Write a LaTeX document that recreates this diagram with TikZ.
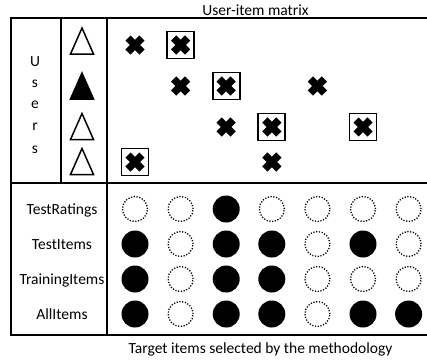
\documentclass[tikz,border=0pt]{standalone}
\usepackage{fontspec}
\setmainfont{Carlito}
\begin{document}
\begin{tikzpicture}[x=1pt,y=-1pt,
  frame/.style={line width=1.6pt},
  lbl/.style={font=\fontsize{15.5}{18}\selectfont, inner sep=0pt},
  filled/.style={circle, fill=black, minimum size=27pt, inner sep=0pt},
  open/.style={circle, draw, dash pattern=on 1.2pt off 1.6pt, line width=1.3pt, minimum size=25pt, inner sep=0pt},
  plainx/.style={minimum size=27pt, inner sep=0pt},
  boxx/.style={minimum size=27pt, inner sep=0pt, draw, line width=1.7pt},
  xline/.style={line width=7.4pt},
  tri/.style={line width=1.5pt},
]
\useasboundingbox (0,0) rectangle (427,360);
% frame
\coordinate (tr) at (427,18);
\coordinate (tl) at (11,18);
\coordinate (bl) at (11,335);
\coordinate (br) at (427,335);
\coordinate (ml) at (11,183);
\coordinate (mr) at (427,183);
\coordinate (ua) at (61,18);
\coordinate (ub) at (61,183);
\coordinate (ta) at (107,18);
\coordinate (tb) at (107,335);
\draw[frame] (tr) -- (tl) -- (bl) -- (br);
\draw[frame] (ml) -- (mr);
\draw[frame] (ua) -- (ub);
\draw[frame] (ta) -- (tb);
% texts
\node[lbl, anchor=base] (title) at (255.5,15) {User-item matrix};
\node[lbl, anchor=base] (foot) at (260.5,353) {Target items selected by the methodology};
\foreach \ch/\yb [count=\k] in {U/66, s/87, e/108, r/130, s/153}
  \node[lbl, anchor=base] (users\k) at (35,\yb) {\ch};
% triangles
\foreach \y/\f in {41/none, 86/black, 126.5/none, 161.5/none}
  \draw[tri, fill=\f] (82,\y-13) -- (93.5,\y+13) -- (70.5,\y+13) -- cycle;
% crosses
\foreach \c/\r/\s [count=\k] in {0/45/plainx, 1/45/boxx,
    1/86/plainx, 2/86/boxx, 4/86/plainx,
    2/127/plainx, 3/127/boxx, 5/127/boxx,
    0/162/boxx, 3/162/plainx} {
  \node[\s] (x\k) at ({135+45.6*\c},\r) {};
  \draw[xline] (x\k.center) +(-7,-7) -- +(7,7);
  \draw[xline] (x\k.center) +(-7,7) -- +(7,-7);
}
% row labels
\foreach \t/\y [count=\k] in {TestRatings/209, TestItems/244, TrainingItems/279, AllItems/314}
  \node[lbl, anchor=base] (row\k) at (62,\y+5) {\t};
% circles
\foreach \row/\y/\pat in {1/209/{0,0,1,0,0,0,0}, 2/244/{1,0,1,1,0,1,0},
    3/279/{1,0,1,1,0,0,0}, 4/314/{1,0,1,1,0,1,1}} {
  \foreach \v [count=\c from 0] in \pat {
    \ifnum\v=1
      \node[filled] (c\row-\c) at ({135+45.6*\c},\y) {};
    \else
      \node[open] (c\row-\c) at ({135+45.6*\c},\y) {};
    \fi
  }
}
\end{tikzpicture}
\end{document}
